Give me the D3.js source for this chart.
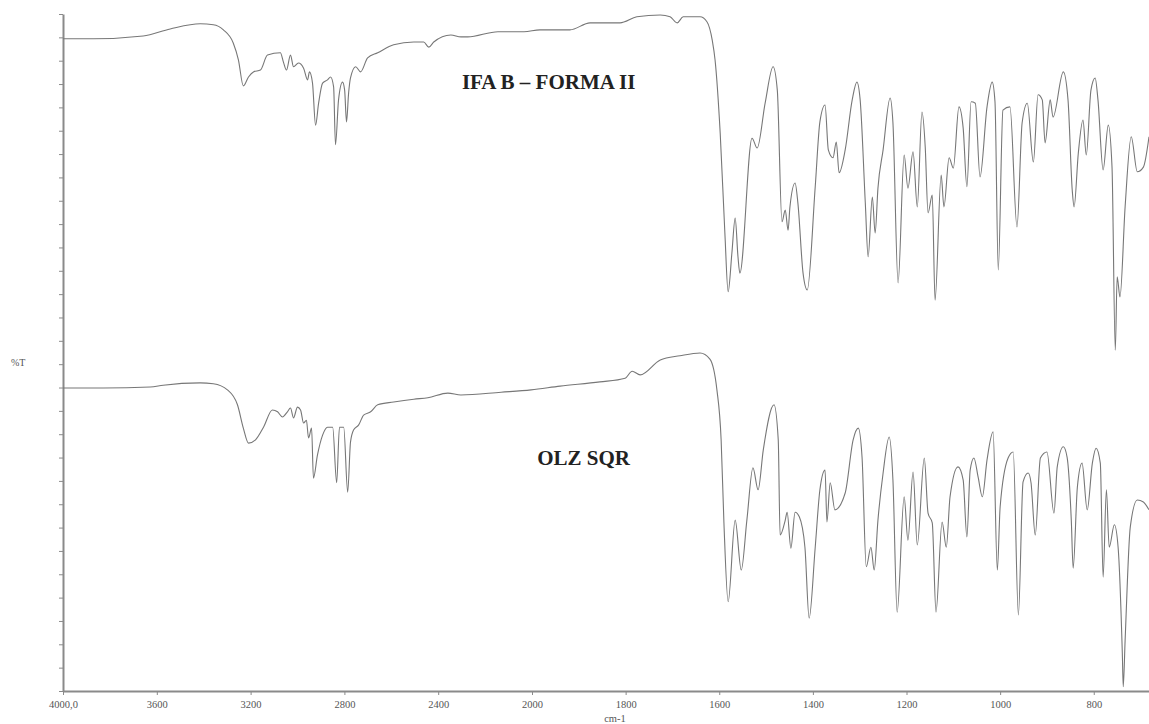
<!DOCTYPE html>
<html>
<head>
<meta charset="utf-8">
<script src="https://cdn.jsdelivr.net/npm/d3@7"></script>
<style>
  html, body { margin: 0; padding: 0; background: #fff; }
  svg { display: block; }
  .axis path, .axis line { stroke: #8a8a8a; }
  .axis text { font-family: "Liberation Serif", serif; font-size: 10.5px; fill: #555; }
</style>
</head>
<body>
<svg id="spectrum"></svg>
<script>
// x tick values (cm-1) and their labels
const xTicks = [4000, 3600, 3200, 2800, 2400, 2000, 1800, 1600, 1400, 1200, 1000, 800];
const xTickLabels = ["4000,0", "3600", "3200", "2800", "2400", "2000", "1800", "1600", "1400", "1200", "1000", "800"];
const yTicks = d3.range(0, 146, 5);

// IFA B - FORMA II  [wavenumber, %T (offset)]
const formaII = [
  [4000,139.7],[3872,139.7],[3658,140.3],[3543,141.8],[3415,142.9],[3359,142.7],[3316,141.6],[3274,138.8],
  [3252,135.2],[3231,129.6],[3209,131.5],[3188,132.6],[3158,133.0],[3128,136.2],[3073,136.7],[3060,134.7],
  [3047,133.0],[3030,136.2],[3017,133.7],[2996,134.5],[2974,133.4],[2957,130.9],[2949,132.6],[2936,130.2],
  [2923,121.2],[2910,125.9],[2893,130.2],[2872,130.9],[2859,131.5],[2846,129.4],[2838,117.0],[2825,126.6],
  [2808,130.4],[2799,128.7],[2791,121.9],[2782,128.1],[2774,131.3],[2752,133.7],[2731,132.6],[2701,135.6],
  [2658,136.7],[2590,138.4],[2504,139.0],[2462,139.0],[2440,137.9],[2419,139.0],[2346,140.5],[2303,140.1],
  [2274,140.1],[2145,141.2],[2034,141.2],[1983,141.6],[1919,141.6],[1876,143.1],[1812,143.1],[1776,144.4],
  [1726,144.8],[1705,144.4],[1690,143.1],[1677,144.4],[1641,144.4],[1626,143.3],[1615,139.4],[1609,135.2],
  [1598,119.5],[1588,98.1],[1581,85.5],[1573,93.8],[1566,101.3],[1560,93.0],[1556,89.5],[1530,118.4],
  [1519,116.3],[1502,125.9],[1485,133.7],[1476,128.7],[1466,100.5],[1459,103.0],[1453,98.7],[1449,103.7],
  [1438,108.8],[1432,104.5],[1421,89.5],[1412,85.9],[1395,108.0],[1385,121.9],[1374,125.5],[1367,115.9],
  [1357,114.2],[1350,117.6],[1344,111.0],[1331,115.9],[1316,126.6],[1306,130.4],[1299,126.6],[1288,104.5],
  [1282,93.0],[1273,105.8],[1267,98.1],[1261,107.7],[1250,115.9],[1235,127.0],[1229,121.7],[1218,87.4],
  [1205,114.8],[1197,107.7],[1186,115.5],[1177,103.7],[1167,124.0],[1160,116.5],[1154,102.4],[1145,106.2],
  [1139,83.7],[1126,110.5],[1120,103.7],[1109,114.2],[1100,112.0],[1088,125.1],[1079,120.6],[1071,108.0],
  [1062,126.2],[1053,125.9],[1043,110.1],[1028,125.1],[1017,130.4],[1011,126.2],[1004,90.2],[994,124.4],
  [979,125.1],[964,99.4],[953,121.7],[942,125.9],[929,113.3],[919,127.7],[910,126.6],[904,117.4],
  [893,126.6],[887,122.9],[865,132.6],[855,126.6],[846,107.3],[842,103.7],[833,115.2],[823,122.3],
  [816,114.8],[806,128.7],[797,131.3],[791,126.6],[780,111.6],[769,121.2],[761,112.2],[754,73.0],
  [750,88.7],[744,84.4],[733,103.7],[720,118.7],[707,111.2],[694,112.2],[682,118.7]
];

// OLZ SQR  [wavenumber, %T (offset)]
const olzSqr = [
  [4000,64.9],[3829,64.9],[3628,65.1],[3573,65.5],[3415,66.0],[3359,65.8],[3299,64.5],[3256,61.3],
  [3231,56.3],[3209,53.1],[3179,53.8],[3145,56.5],[3107,60.2],[3085,59.8],[3064,58.7],[3043,59.8],
  [3030,60.6],[3017,58.5],[3000,60.8],[2987,60.2],[2974,57.4],[2962,58.0],[2953,54.2],[2940,56.3],
  [2932,45.6],[2915,50.5],[2893,54.8],[2872,56.5],[2850,56.5],[2833,44.6],[2821,56.5],[2803,56.5],
  [2786,42.6],[2774,53.3],[2761,55.9],[2739,57.0],[2718,59.1],[2688,59.8],[2658,61.3],[2590,61.9],
  [2504,62.5],[2444,62.8],[2359,63.8],[2303,63.4],[2132,64.0],[2004,64.5],[1940,65.3],[1855,66.2],
  [1801,67.0],[1786,68.5],[1769,67.7],[1726,70.9],[1684,71.8],[1641,72.4],[1620,71.1],[1605,64.5],
  [1596,53.8],[1590,36.0],[1581,19.1],[1566,36.6],[1553,25.9],[1541,36.6],[1528,47.8],[1517,43.1],
  [1506,51.6],[1483,61.3],[1474,53.8],[1470,33.4],[1459,36.6],[1455,38.3],[1447,30.6],[1438,38.3],
  [1429,37.3],[1417,30.8],[1408,15.6],[1395,30.8],[1385,43.1],[1374,47.3],[1370,36.2],[1363,44.6],
  [1353,38.8],[1331,42.4],[1314,53.8],[1303,56.3],[1295,50.1],[1286,26.6],[1276,30.8],[1269,25.9],
  [1261,36.6],[1250,46.7],[1237,54.4],[1229,45.2],[1220,16.9],[1205,41.6],[1197,32.3],[1186,46.9],
  [1177,31.3],[1162,49.9],[1154,38.1],[1145,36.0],[1137,16.9],[1124,36.2],[1115,30.8],[1107,41.6],
  [1090,48.0],[1079,45.2],[1071,33.0],[1064,47.3],[1056,49.9],[1047,45.8],[1038,41.6],[1028,49.5],
  [1015,55.5],[1006,25.9],[1000,39.4],[983,49.9],[972,51.2],[961,16.3],[951,44.8],[940,46.7],
  [934,44.6],[925,33.4],[914,49.9],[900,51.2],[885,38.1],[878,48.0],[865,52.3],[857,50.1],
  [848,36.6],[844,26.3],[835,43.7],[825,48.8],[814,38.8],[803,48.8],[795,52.0],[786,48.8],
  [780,24.4],[773,43.1],[767,30.8],[756,35.6],[748,30.8],[739,8.1],[737,0.9],[733,10.9],
  [722,35.1],[707,40.9],[694,40.5],[682,38.8]
];

const traceLabels = [
  { text: "IFA B \u2013 FORMA II", wn: 2299, t: 129 },
  { text: "OLZ SQR", wn: 1989, t: 48.5 }
];

const width = 1149, height = 724;
const margin = { top: 14, right: 0, bottom: 33, left: 63 };

const svg = d3.select("#spectrum")
  .attr("width", width)
  .attr("height", height);

// IR style x scale: 400 cm-1 per division above 2000, 200 below
const x = d3.scaleLinear()
  .domain([4000, 2000, 682])
  .range([margin.left, 532, width]);

const y = d3.scaleLinear()
  .domain([0, 145])
  .range([height - margin.bottom, margin.top]);

const line = d3.line()
  .x(d => x(d[0]))
  .y(d => y(d[1]))
  .curve(d3.curveMonotoneX);

// axes
svg.append("g")
  .attr("class", "axis")
  .attr("transform", `translate(0,${height - margin.bottom})`)
  .call(d3.axisBottom(x)
    .tickValues(xTicks)
    .tickFormat((d, i) => xTickLabels[i])
    .tickSize(4)
    .tickSizeOuter(0))
  .call(g => g.select(".domain").attr("stroke-width", 2))
  .call(g => g.selectAll("text").attr("dy", "0.95em"));

svg.append("g")
  .attr("class", "axis")
  .attr("transform", `translate(${margin.left},0)`)
  .call(d3.axisLeft(y)
    .tickValues(yTicks)
    .tickFormat("")
    .tickSize(4)
    .tickSizeOuter(0))
  .call(g => g.select(".domain").attr("stroke-width", 2));

// axis titles
svg.append("text")
  .attr("x", 615)
  .attr("y", 722)
  .attr("text-anchor", "middle")
  .style("font-family", "Liberation Serif, serif")
  .style("font-size", "10.5px")
  .style("fill", "#555")
  .text("cm-1");

svg.append("text")
  .attr("x", 11)
  .attr("y", 366)
  .style("font-family", "Liberation Serif, serif")
  .style("font-size", "10px")
  .style("fill", "#555")
  .text("%T");

// spectra
[formaII, olzSqr].forEach(series => {
  svg.append("path")
    .datum(series)
    .attr("fill", "none")
    .attr("stroke", "#777")
    .attr("stroke-width", 1.1)
    .attr("stroke-linejoin", "round")
    .attr("d", line);
});

// trace names
traceLabels.forEach(l => {
  svg.append("text")
    .attr("x", x(l.wn))
    .attr("y", y(l.t))
    .style("font-family", "Liberation Serif, Times New Roman, serif")
    .style("font-size", "21px")
    .style("font-weight", "bold")
    .style("fill", "#222")
    .text(l.text);
});
</script>
</body>
</html>
